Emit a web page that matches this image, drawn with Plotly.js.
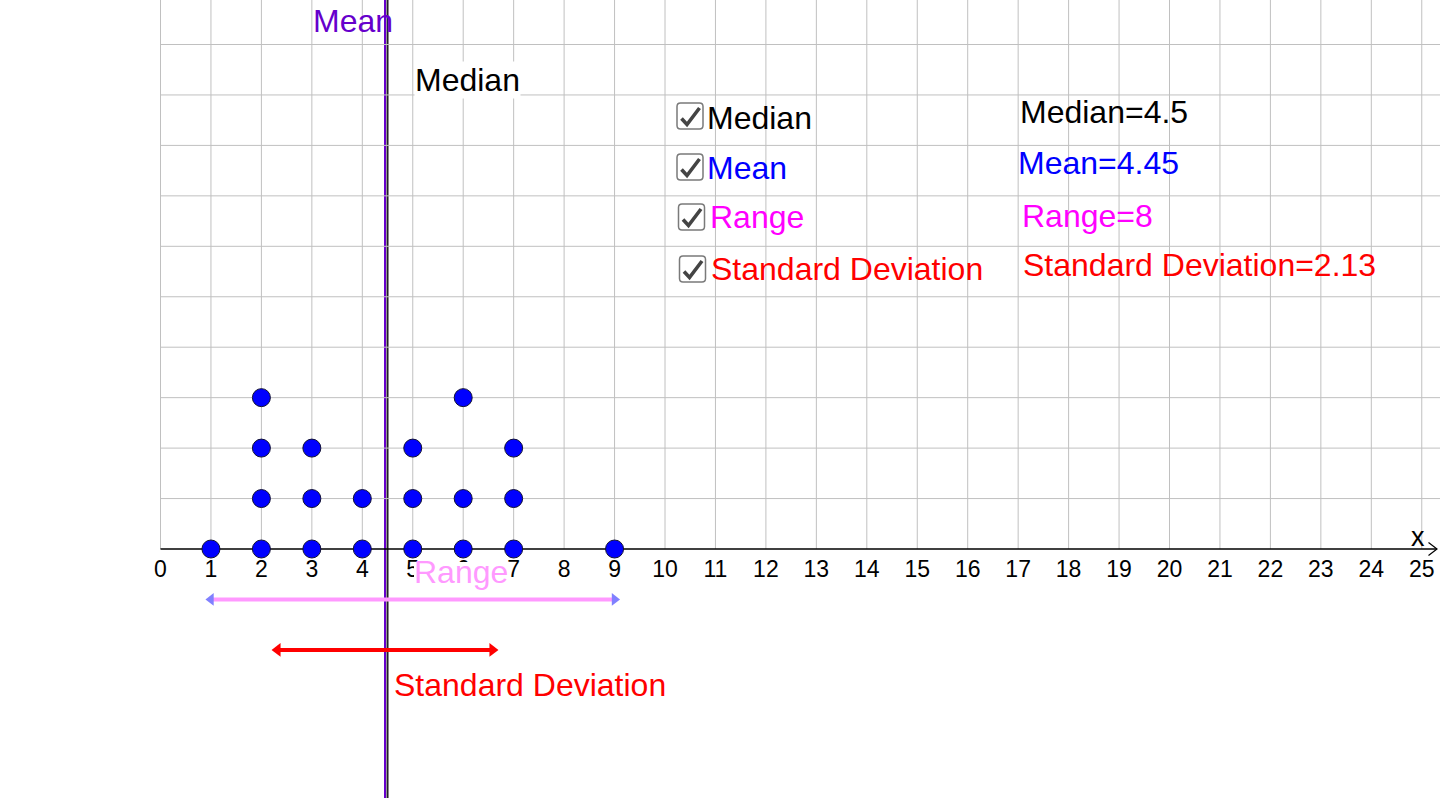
<!DOCTYPE html>
<html>
<head>
<meta charset="utf-8">
<script src="https://cdn.plot.ly/plotly-3.0.1.min.js"></script>
<style>html,body{margin:0;padding:0;background:#fff;}#chart{width:1440px;height:798px;}</style>
</head>
<body>
<div id="chart"></div>
<script>
// ---- data ----
const dotX = [1, 2, 2, 2, 2, 3, 3, 3, 4, 4, 5, 5, 5, 6, 6, 6, 7, 7, 7, 9];
const dotY = [0, 0, 1, 2, 3, 0, 1, 2, 0, 1, 0, 1, 2, 0, 1, 3, 0, 1, 2, 0];
const tickValues = [0,1,2,3,4,5,6,7,8,9,10,11,12,13,14,15,16,17,18,19,20,21,22,23,24,25];
const medianValue = 4.5;
const meanValue = 4.45;
const rangeValue = 8;
const sdValue = 2.13;
const checkLabels = ["Median", "Mean", "Range", "Standard Deviation"];
const statLabels = ["Median=4.5", "Mean=4.45", "Range=8", "Standard Deviation=2.13"];

// ---- layout geometry ----
const W = 1440, H = 798;
const X0PX = 160.5, Y0PX = 549, UNIT = 50.45;
const xRange = [-X0PX / UNIT, (W - X0PX) / UNIT];
const yRange = [-(H - Y0PX) / UNIT, Y0PX / UNIT];
const px = v => v / W;          // pixel -> paper x
const py = v => 1 - v / H;      // pixel -> paper y
const FONT = "Liberation Sans, Arial, sans-serif";
const rangeLevel = -1, sdLevel = -2;

const dataMin = Math.min(...dotX), dataMax = Math.max(...dotX);

const traces = [
  { // range arrow
    x: [dataMin, dataMax], y: [rangeLevel, rangeLevel], mode: 'lines+markers', type: 'scatter',
    line: {color: '#ff99ff', width: 4},
    marker: {symbol: ['triangle-left', 'triangle-right'], size: 11, color: '#8080ff', line: {width: 0}},
    hoverinfo: 'skip', showlegend: false
  },
  { // standard deviation arrow
    x: [meanValue - sdValue, meanValue + sdValue], y: [sdLevel, sdLevel], mode: 'lines+markers', type: 'scatter',
    line: {color: '#ff0000', width: 4},
    marker: {symbol: ['triangle-left', 'triangle-right'], size: 12, color: '#ff0000', line: {width: 0}},
    hoverinfo: 'skip', showlegend: false
  },
  { // dots
    x: dotX, y: dotY, mode: 'markers', type: 'scatter',
    marker: {size: 18, color: '#0000ff', line: {color: '#111133', width: 1}},
    hoverinfo: 'x', showlegend: false
  }
];

const shapes = [];
// grid (first quadrant only)
for (let i = 0; i <= Math.floor(xRange[1]); i++) {
  shapes.push({type: 'line', layer: 'below', xref: 'x', yref: 'y', x0: i, x1: i, y0: 0, y1: yRange[1],
    line: {color: '#c0c0c0', width: 1}});
}
for (let j = 1; j <= Math.floor(yRange[1]); j++) {
  shapes.push({type: 'line', layer: 'below', xref: 'x', yref: 'y', x0: 0, x1: xRange[1], y0: j, y1: j,
    line: {color: '#c0c0c0', width: 1}});
}
// x axis line + chevron arrow
shapes.push({type: 'line', layer: 'below', xref: 'x', yref: 'y', x0: 0, x1: xRange[1] - 3 / UNIT, y0: 0, y1: 0,
  line: {color: '#000', width: 1.5}});
shapes.push({type: 'path', layer: 'above', xref: 'paper', yref: 'paper',
  path: `M${px(1428.5)},${py(542.5)} L${px(1437)},${py(549)} L${px(1428.5)},${py(555.5)}`,
  line: {color: '#000', width: 1.2}});
// mean & median lines
shapes.push({type: 'line', layer: 'below', xref: 'x', yref: 'paper', x0: meanValue, x1: meanValue, y0: 0, y1: 1,
  line: {color: '#6600cc', width: 2}});
shapes.push({type: 'line', layer: 'below', xref: 'x', yref: 'paper', x0: medianValue, x1: medianValue, y0: 0, y1: 1,
  line: {color: '#222222', width: 2}});
// white label background of the "Range" caption (hides parts of tick labels 5 and 6)
shapes.push({type: 'rect', layer: 'above', xref: 'paper', yref: 'paper',
  x0: px(414), x1: px(508), y0: py(562), y1: py(590), fillcolor: '#ffffff', line: {width: 0}});

// checkboxes
const boxTL = [[677, 103], [677, 154], [678.5, 204], [679.5, 256]];
const S = 26, R = 3.5;
boxTL.forEach(([bx, by]) => {
  const p = (x, y) => `${px(x)},${py(y)}`;
  shapes.push({type: 'path', layer: 'above', xref: 'paper', yref: 'paper',
    path: `M${p(bx + R, by)} L${p(bx + S - R, by)} Q${p(bx + S, by)} ${p(bx + S, by + R)} L${p(bx + S, by + S - R)} Q${p(bx + S, by + S)} ${p(bx + S - R, by + S)} L${p(bx + R, by + S)} Q${p(bx, by + S)} ${p(bx, by + S - R)} L${p(bx, by + R)} Q${p(bx, by)} ${p(bx + R, by)} Z`,
    fillcolor: '#ffffff', line: {color: '#7a7a7a', width: 1.5}});
  shapes.push({type: 'path', layer: 'above', xref: 'paper', yref: 'paper',
    path: `M${p(bx + 4.5, by + 15.5)} L${p(bx + 10, by + 21.5)} L${p(bx + 22.5, by + 5)}`,
    line: {color: '#444444', width: 3.6}});
});

function txt(text, xpx, ypx, color, size, extra) {
  return Object.assign({text: text, xref: 'paper', yref: 'paper', x: px(xpx), y: py(ypx),
    xanchor: 'left', yanchor: 'middle', showarrow: false, borderpad: 0,
    font: {family: FONT, size: size, color: color}}, extra || {});
}

const checkColors = ['#000000', '#0000ff', '#ff00ff', '#ff0000'];
const checkPos = [[705.5, 117.5], [705.5, 168], [708.5, 217], [709.5, 269]];
const statPos = [[1018.5, 111.7], [1017, 162.5], [1021, 215.5], [1022, 265]];

const annotations = [];
checkLabels.forEach((t, i) => annotations.push(txt(t, checkPos[i][0], checkPos[i][1], checkColors[i], 32)));
statLabels.forEach((t, i) => annotations.push(txt(t, statPos[i][0], statPos[i][1], checkColors[i], 32)));
annotations.push(txt('Mean', 312, 21, '#6600cc', 32));
annotations.push(txt('Median', 414.5, 80, '#000000', 32, {bgcolor: '#ffffff'}));
annotations.push(txt('Range', 413.5, 572, '#ff99ff', 32));
annotations.push(txt('Standard Deviation', 392.5, 684.5, '#ff0000', 32));
annotations.push(txt('x', 1410, 537, '#000000', 27));

const layout = {
  width: W, height: H,
  margin: {l: 0, r: 0, t: 0, b: 0, pad: 0},
  paper_bgcolor: '#ffffff', plot_bgcolor: '#ffffff',
  showlegend: false,
  xaxis: {
    range: xRange, showgrid: false, zeroline: false, showline: false,
    tickmode: 'array', tickvals: tickValues, ticktext: tickValues.map(String),
    ticks: '', tickfont: {family: FONT, size: 23, color: '#000'}, ticklabelstandoff: 4,
    anchor: 'free', position: py(Y0PX), side: 'bottom', fixedrange: true
  },
  yaxis: {range: yRange, visible: false, showgrid: false, zeroline: false, fixedrange: true},
  shapes: shapes,
  annotations: annotations
};

Plotly.newPlot('chart', traces, layout, {displayModeBar: false, staticPlot: true});
</script>
</body>
</html>
